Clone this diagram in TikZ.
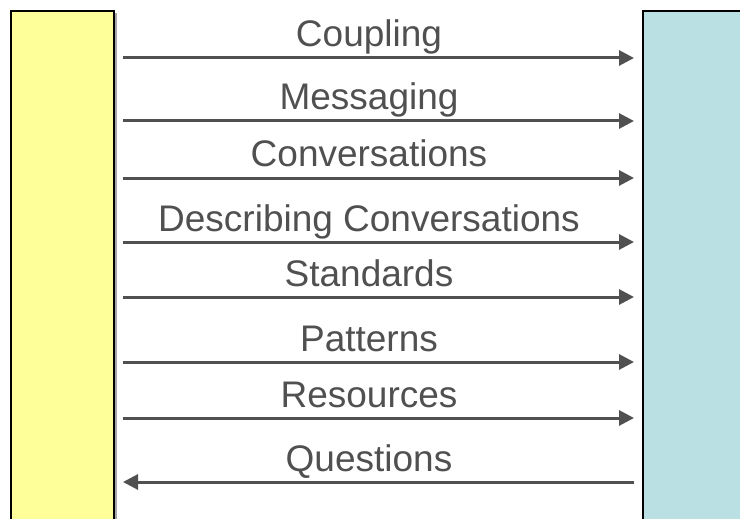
\documentclass[tikz,border=0pt]{standalone}
\usepackage{fontspec}
\setmainfont{Liberation Sans}
\usetikzlibrary{arrows.meta,positioning,shadows}
\definecolor{clientyellow}{HTML}{FFFF99}
\definecolor{serviceblue}{HTML}{BBE0E3}
\definecolor{msggray}{HTML}{505050}

\begin{document}
\begin{tikzpicture}[
    x=1pt, y=-1pt,
    party/.style={rectangle, draw=black, line width=2pt, minimum width=103pt, minimum height=540pt, anchor=north west, inner sep=0pt},
    arr/.style={-{Triangle[length=15pt, width=15pt]}, line width=3pt, draw=msggray, shorten <=8pt, shorten >=8pt},
    lbl/.style={font=\fontsize{37}{40}\selectfont, text=msggray, anchor=base, inner sep=0pt}
]
    \useasboundingbox (0,0) rectangle (740,519);
    \clip (0,0) rectangle (740,519);

    \node[party, fill=clientyellow, drop shadow={shadow xshift=3pt, shadow yshift=-2pt, fill=black!35, opacity=1}] (client) at (10,10) {};
    \node[party, fill=serviceblue, minimum width=120pt] (service) at (642,10) {};

    % messages from client to service
    \foreach \y/\txt [count=\i] in {58/Coupling, 121/Messaging, 178/Conversations, 242/Describing Conversations, 297/Standards, 362/Patterns, 418/Resources} {
        \coordinate (row\i) at (0,\y);
        \draw[arr] (client.east |- row\i) -- (service.west |- row\i);
        \node[lbl] (msg\i) at (369,{\y-11}) {\txt};
    }

    % answer back
    \coordinate (rowq) at (0,482);
    \draw[arr] (service.west |- rowq) -- (client.east |- rowq);
    \node[lbl] (msgq) at (369,471) {Questions};
\end{tikzpicture}
\end{document}
